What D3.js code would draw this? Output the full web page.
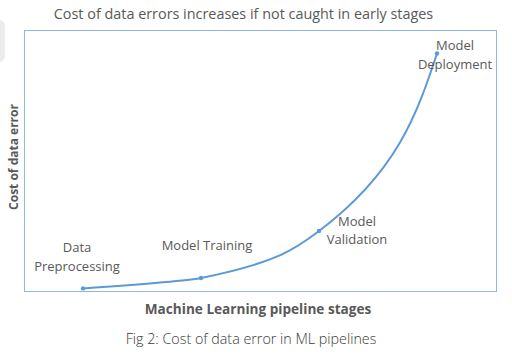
<!DOCTYPE html>
<html><head><meta charset="utf-8">
<script src="https://cdn.jsdelivr.net/npm/d3@7"></script>
<style>body{margin:0;background:#fff}svg{display:block}</style>
</head><body>
<script>
const stages = ["Data Preprocessing", "Model Training", "Model Validation", "Model Deployment"];
const labelLines = [["Data", "Preprocessing"], ["Model Training"], ["Model", "Validation"], ["Model", "Deployment"]];
const costValues = [1, 5, 23, 91];
const yDomain = [0, 100];

const W = 512, H = 360;
const box = {left: 24, top: 30, right: 496, bottom: 291};
const svg = d3.select("body").append("svg").attr("width", W).attr("height", H);

// faint shadow at top-left
svg.append("rect").attr("x", -10).attr("y", 20).attr("width", 15).attr("height", 42).attr("rx", 6)
  .attr("fill", "#ececec");

const x = d3.scalePoint().domain(stages).range([box.left, box.right]).padding(0.5);
const y = d3.scaleLinear().domain(yDomain).range([box.bottom, box.top]);

svg.append("rect").attr("x", box.left + 0.5).attr("y", box.top + 0.5)
  .attr("width", box.right - box.left).attr("height", box.bottom - box.top)
  .attr("fill", "none").attr("stroke", "#8db8e2").attr("stroke-width", 1);

const data = stages.map((s, i) => ({s, v: costValues[i]}));
const line = d3.line().x(d => x(d.s)).y(d => y(d.v)).curve(d3.curveMonotoneY);
svg.append("path").datum(data).attr("d", line).attr("fill", "none")
  .attr("stroke", "#5b9bd5").attr("stroke-width", 2);
svg.selectAll("circle.pt").data(data).join("circle").attr("class", "pt")
  .attr("cx", d => x(d.s)).attr("cy", d => y(d.v)).attr("r", 2.2).attr("fill", "#5b9bd5");

const font = "'Open Sans', sans-serif";
const labelPos = [[-6, -36], [6, -28], [38, -5], [18, -3]]; // offsets of label center/first baseline from point
const labels = svg.selectAll("text.lbl").data(data).join("text").attr("class", "lbl")
  .attr("text-anchor", "middle").attr("font-family", font).attr("font-size", 13).attr("fill", "#595959")
  .attr("transform", (d, i) => `translate(${x(d.s) + labelPos[i][0]},${y(d.v) + labelPos[i][1]})`);
labels.each(function(d, i) {
  d3.select(this).selectAll("tspan").data(labelLines[i]).join("tspan")
    .attr("x", 0).attr("dy", (t, j) => j === 0 ? 0 : 18.5).text(t => t);
});

svg.append("text").attr("x", 243.5).attr("y", 19).attr("text-anchor", "middle")
  .attr("font-family", font).attr("font-size", 14.4).attr("fill", "#595959")
  .text("Cost of data errors increases if not caught in early stages");

svg.append("text").attr("x", 258).attr("y", 314).attr("text-anchor", "middle")
  .attr("font-family", font).attr("font-size", 13.6).attr("font-weight", "bold").attr("fill", "#595959")
  .text("Machine Learning pipeline stages");

svg.append("text").attr("transform", "translate(18,157) rotate(-90)").attr("text-anchor", "middle")
  .attr("font-family", font).attr("font-size", 12).attr("font-weight", "bold").attr("fill", "#595959")
  .text("Cost of data error");

svg.append("text").attr("x", 251).attr("y", 344).attr("text-anchor", "middle")
  .attr("font-family", font).attr("font-size", 14.3).attr("font-weight", 300).attr("fill", "#3a3a3a")
  .text("Fig 2: Cost of data error in ML pipelines");
</script>
</body></html>
